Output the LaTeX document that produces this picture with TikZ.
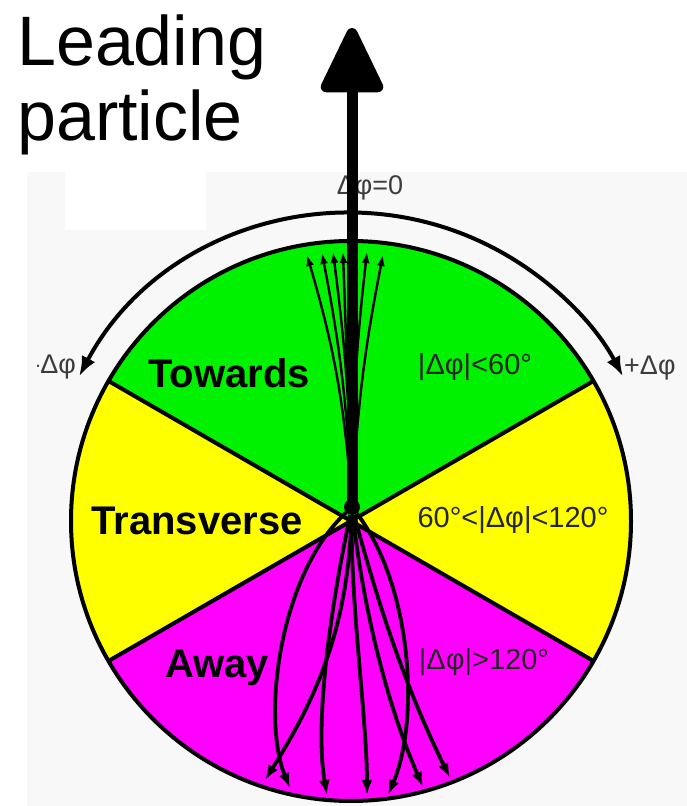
\documentclass[tikz,border=0pt]{standalone}
\usepackage{fontspec}
\setmainfont{Liberation Sans}
\usetikzlibrary{arrows.meta}
\definecolor{towGreen}{RGB}{0,242,0}
\definecolor{tranYellow}{RGB}{255,255,0}
\definecolor{awayMagenta}{RGB}{255,0,255}
\definecolor{bgGray}{RGB}{248,248,248}
\definecolor{labelGray}{RGB}{60,60,60}
\tikzset{
  sectorlabel/.style={font=\fontsize{40}{40}\selectfont\bfseries, inner sep=0pt},
  rangelabel/.style={font=\fontsize{29}{29}\selectfont, text=black!85, inner sep=0pt},
  philabel/.style={font=\fontsize{27}{27}\selectfont, text=labelGray, inner sep=0pt},
  border/.style={line width=4pt, line join=round},
  fanarrow/.style={-{Latex[length=11pt,width=8pt]}, line width=2.4pt},
  awayarrow/.style={-{Latex[length=15pt,width=11pt]}, line width=3.8pt},
  leadarrow/.style={-{Triangle[length=72pt,width=66pt,round]}, line width=11pt}
}
\begin{document}
\begin{tikzpicture}[x=1pt,y=1pt]
\useasboundingbox (0,0) rectangle (687,806);
% backdrop
\fill[bgGray] (27,0) rectangle (687,634);
\fill[white] (65,634) rectangle (206,576);

% the three regions
\coordinate (c) at (351,285);
\fill[towGreen] (c) -- ++(30:280) arc[start angle=30, end angle=150, radius=280] -- cycle;
\fill[tranYellow] (c) -- ++(150:280) arc[start angle=150, end angle=210, radius=280] -- cycle;
\fill[awayMagenta] (c) -- ++(210:280) arc[start angle=210, end angle=330, radius=280] -- cycle;
\fill[tranYellow] (c) -- ++(-30:280) arc[start angle=-30, end angle=30, radius=280] -- cycle;
\draw[border] (c) circle[radius=280];
\draw[border] (c) -- ++(30:280) (c) -- ++(150:280) (c) -- ++(210:280) (c) -- ++(330:280);

% phi direction arc
\draw[border, {Latex[length=20pt,width=15pt]}-{Latex[length=20pt,width=15pt]}]
  ([shift={(152:308)}]c) arc[start angle=152, end angle=28, radius=308];
\node[philabel] (phizero) at (370,618) {Δφ=0};
\node[philabel, anchor=west] (plus) at (624,438) {+Δφ};
\begin{scope}
  \clip (37,0) rectangle (687,806);
  \node[philabel, anchor=east] (minus) at (76,439) {-Δφ};
\end{scope}

% region labels
\node[sectorlabel] (towards) at (229,433) {Towards};
\node[sectorlabel] (transverse) at (197,285) {Transverse};
\node[sectorlabel] (away) at (217,138) {Away};
\node[rangelabel] (rtow) at (475,439) {|Δφ|<60°};
\node[rangelabel] (rtrans) at (513,286) {60°<|Δφ|<120°};
\node[rangelabel] (raway) at (484,144) {|Δφ|>120°};

% particles
\node[circle, fill=black, inner sep=0pt, minimum size=16pt] (o) at (352,299) {};
\coordinate (t1) at (307,551);
\coordinate (t2) at (322,553);
\coordinate (t3) at (333,554);
\coordinate (t4) at (343,554);
\coordinate (t5) at (367,554);
\coordinate (t6) at (383,551);
\draw[fanarrow] (o) to[bend right=6] (t1);
\draw[fanarrow] (o) to[bend right=4] (t2);
\draw[fanarrow] (o) to[bend right=3] (t3);
\draw[fanarrow] (o) -- (t4);
\draw[fanarrow] (o) to[bend left=3] (t5);
\draw[fanarrow] (o) to[bend left=4] (t6);

\coordinate (a1) at (265,26);
\coordinate (a2) at (290,18);
\coordinate (a3) at (327,11);
\coordinate (a4) at (367,11);
\coordinate (a5) at (388,11);
\coordinate (a6) at (423,19);
\coordinate (a7) at (450,28);
\draw[awayarrow] (o) .. controls (348,186) and (322,116) .. (a1);
\draw[awayarrow] (o) .. controls (278,230) and (262,86) .. (a2);
\draw[awayarrow] (o) .. controls (332,206) and (314,86) .. (a3);
\draw[awayarrow] (o) .. controls (350,206) and (367,86) .. (a4);
\draw[awayarrow] (o) .. controls (412,220) and (420,86) .. (a5);
\draw[awayarrow] (o) .. controls (362,206) and (385,106) .. (a6);
\draw[awayarrow] (o) .. controls (376,210) and (402,126) .. (a7);

% leading particle
\coordinate (lead) at (352,778);
\draw[leadarrow] (o.center) -- (lead);
\node[anchor=north west, align=left, font=\fontsize{70}{75}\selectfont, inner sep=0pt] (leading) at (17,791) {Leading\\particle};
\end{tikzpicture}
\end{document}
